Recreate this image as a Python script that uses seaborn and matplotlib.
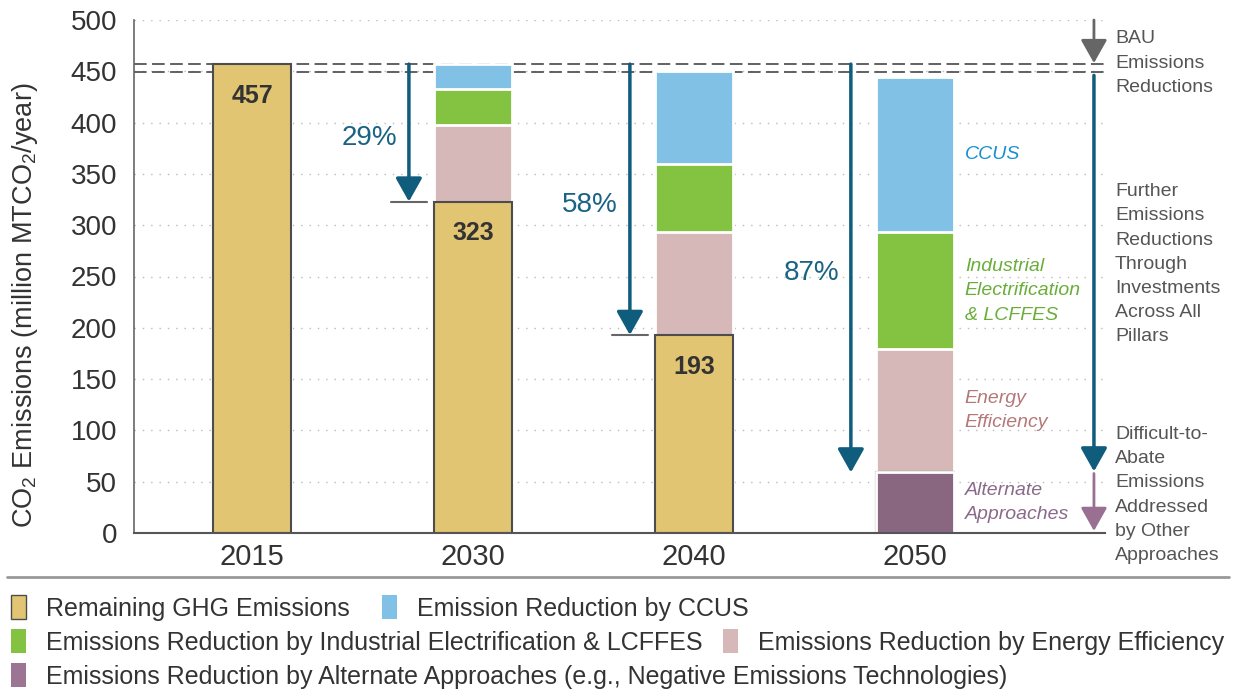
import matplotlib
matplotlib.use("Agg")
import matplotlib.pyplot as plt
from matplotlib.lines import Line2D
from matplotlib.patches import Patch
import pandas as pd
import seaborn as sns

# values (million MTCO2/year)
years = ["2015", "2030", "2040", "2050"]
remaining = [457, 323, 193, 0]
efficiency = [0, 75, 100, 120]
electrification = [0, 35, 67, 114]
ccus = [0, 24, 90, 151]
alternate = [0, 0, 0, 59]
bau_levels = [457, 449]

legend_labels = [
    "Remaining GHG Emissions",
    "Emission Reduction by CCUS",
    "Emissions Reduction by Industrial Electrification & LCFFES",
    "Emissions Reduction by Energy Efficiency",
    "Emissions Reduction by Alternate Approaches (e.g., Negative Emissions Technologies)",
]
side_labels = [
    "BAU\nEmissions\nReductions",
    "Further\nEmissions\nReductions\nThrough\nInvestments\nAcross All\nPillars",
    "Difficult-to-\nAbate\nEmissions\nAddressed\nby Other\nApproaches",
]
segment_labels = ["Alternate\nApproaches", "Energy\nEfficiency",
                  "Industrial\nElectrification\n& LCFFES", "CCUS"]

colors = {
    "alt": "#8a6780",
    "rem": "#e2c572",
    "eff": "#d6b8b8",
    "elec": "#84c341",
    "ccus": "#80c1e5",
}
label_colors = {"alt": "#8a6a8a", "eff": "#b47878", "elec": "#6aae3a", "ccus": "#1a8fd0"}
teal = "#0f5c7c"

layers = ["alt", "rem", "eff", "elec", "ccus"]
df = pd.DataFrame({"alt": alternate, "rem": remaining, "eff": efficiency,
                   "elec": electrification, "ccus": ccus})
cum = df[layers].cumsum(axis=1)
cum["year"] = years

sns.set_style("white")
plt.rcParams["font.family"] = ["Liberation Sans", "DejaVu Sans"]
plt.rcParams["mathtext.fontset"] = "custom"
plt.rcParams["mathtext.rm"] = "Liberation Sans"

fig = plt.figure(figsize=(12.33, 6.93), dpi=100)
ax = fig.add_axes([134 / 1233, 1 - 533 / 693, (1105 - 134) / 1233, 513 / 693])

# stacked bars: draw cumulative totals from the top layer down
for key in reversed(layers):
    if key == "rem":
        edge, lw = "#4d4d4d", 1.5
    else:
        edge, lw = "white", 2
    sns.barplot(data=cum, x="year", y=key, color=colors[key], saturation=1,
                width=0.35, edgecolor=edge, linewidth=lw, errorbar=None, ax=ax)

ax.set_xlim(-0.534, 3.86)
ax.set_ylim(0, 500)
ax.set_yticks(range(0, 501, 50))
ax.set_xlabel("")
ax.set_ylabel("CO$_2$ Emissions (million MTCO$_2$/year)", fontsize=19.5,
              color="#333333")
ax.yaxis.set_label_coords(-0.097, 0.444)
ax.tick_params(axis="x", length=0, pad=7, labelsize=21, labelcolor="#333333")
ax.tick_params(axis="y", length=7, width=1.2, color="#666666", pad=5,
               labelsize=20, labelcolor="#333333")
sns.despine(ax=ax)
ax.spines["left"].set_color("#666666")
ax.spines["bottom"].set_color("#555555")
ax.spines["left"].set_linewidth(1.2)
ax.spines["bottom"].set_linewidth(1.5)
ax.yaxis.grid(True, linestyle=(0, (1, 5)), color="#bbbbbb", lw=1)
ax.set_axisbelow(True)

for lvl in bau_levels:
    ax.axhline(lvl, color="#555555", lw=1.3, ls=(0, (7, 3)), zorder=0.9)

xs = list(range(len(years)))
base = remaining[0]
arrow_style = "-|>,head_length=0.8,head_width=0.45"

# value labels in the remaining-emissions bars
for x, r in zip(xs, remaining):
    if r > 0:
        ax.text(x, r - 31, str(r), ha="center", va="center", fontsize=18,
                fontweight="bold", color="#333333")

# reduction arrows with percentages
for x, r, a in zip(xs[1:], remaining[1:], alternate[1:]):
    end = r if r > 0 else a
    ax_x = x - 0.29
    ax.annotate("", xy=(ax_x, end), xytext=(ax_x, base),
                arrowprops=dict(arrowstyle=arrow_style, color=teal, lw=2.5,
                                shrinkA=0, shrinkB=0, mutation_scale=18))
    if r > 0:
        ax.plot([ax_x - 0.08, ax_x + 0.08], [end, end], color="#666666", lw=1.5)
    pct = round((base - end) / base * 100)
    ax.text(x - 0.47, (base + end) / 2 - 5, f"{pct}%", ha="center", va="center",
            fontsize=20, color="#1a6384")

# labels next to the 2050 segments
last = cum.iloc[-1]
seg_keys = ["alt", "eff", "elec", "ccus"]
for key, text in zip(seg_keys, segment_labels):
    i = layers.index(key)
    lower = last[layers[i - 1]] if i > 0 else 0
    mid = (lower + last[key]) / 2
    ax.text(xs[-1] + 0.226, mid, text, ha="left", va="center", fontsize=14,
            style="italic", color=label_colors[key], linespacing=1.55)

# side arrows
side_x = 3.81
ax.annotate("", xy=(side_x, base + 1), xytext=(side_x, 500),
            arrowprops=dict(arrowstyle=arrow_style, color="#666666", lw=2,
                            shrinkA=0, shrinkB=0, mutation_scale=18), annotation_clip=False)
ax.annotate("", xy=(side_x, alternate[-1] + 1), xytext=(side_x, bau_levels[1] - 3),
            arrowprops=dict(arrowstyle=arrow_style, color=teal, lw=2.5,
                            shrinkA=0, shrinkB=0, mutation_scale=18))
ax.annotate("", xy=(side_x, 2), xytext=(side_x, alternate[-1] - 1),
            arrowprops=dict(arrowstyle=arrow_style, color="#9a7092", lw=2,
                            shrinkA=0, shrinkB=0, mutation_scale=18))

for text, y in zip(side_labels, [458, 262, 37]):
    ax.text(3.905, y, text, ha="left", va="center", fontsize=14, color="#555555",
            linespacing=1.55, clip_on=False)

# separator and legend rows
fig.add_artist(Line2D([0.006, 0.997], [1 - 577 / 693] * 2, color="#999999", lw=2,
                      transform=fig.transFigure))

handles = [
    Patch(facecolor=colors["rem"], edgecolor="#4d4d4d", lw=1),
    Patch(facecolor=colors["ccus"], edgecolor="none"),
    Patch(facecolor=colors["elec"], edgecolor="none"),
    Patch(facecolor=colors["eff"], edgecolor="none"),
    Patch(facecolor="#9b7593", edgecolor="none"),
]
rows = [([0, 1], 608, 1.3), ([2, 3], 642, 0.8), ([4], 676, 1.0)]
for idx, ypix, colsp in rows:
    fig.legend(handles=[handles[i] for i in idx], labels=[legend_labels[i] for i in idx],
               loc="center left", bbox_to_anchor=(0.009, 1 - ypix / 693),
               ncol=len(idx), frameon=False, fontsize=18, labelcolor="#333333",
               handlelength=0.6, handleheight=1.05, handletextpad=0.8,
               columnspacing=colsp, borderpad=0, borderaxespad=0)

fig.savefig("out.png", dpi=100)
